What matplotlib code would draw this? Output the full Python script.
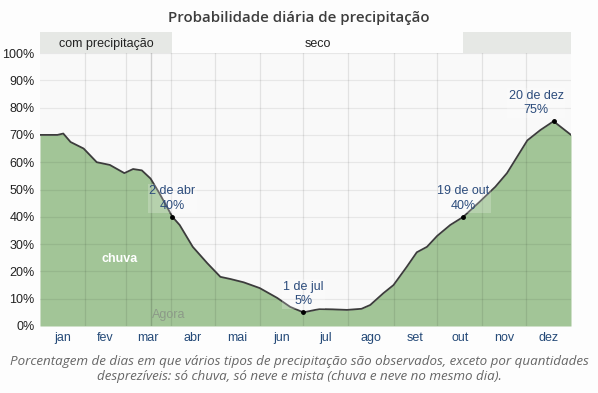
import matplotlib
matplotlib.use("Agg")
import matplotlib.pyplot as plt
import numpy as np

# ---- data ----
days = [0, 12, 16, 21, 30, 39, 48, 58, 64, 70, 76, 82, 91, 96, 105, 115, 124, 131,
        140, 151, 163, 172, 181, 192, 201, 211, 221, 227, 236, 243, 252, 259, 266,
        273, 282, 291, 302, 313, 321, 328, 335, 344, 353, 365]
prob = [70, 70, 70.5, 67.4, 65, 60, 59, 56, 57.5, 57, 54, 48.7, 40, 37, 29, 23, 18, 17.2,
        16, 13.9, 10.3, 7, 5, 6.2, 6.1, 5.9, 6.3, 7.7, 12, 15, 21.6, 27, 29,
        33, 37, 40, 45.4, 51, 56, 62, 68, 71.8, 75, 70]
month_labels = ["jan", "fev", "mar", "abr", "mai", "jun", "jul", "ago", "set", "out", "nov", "dez"]
month_starts = [0, 31, 59, 90, 120, 151, 181, 212, 243, 273, 304, 334, 365]
yticks = [0, 10, 20, 30, 40, 50, 60, 70, 80, 90, 100]
ann_days = [91, 181, 291, 353]
ann_vals = [40, 5, 40, 75]
ann_text = ["2 de abr", "1 de jul", "19 de out", "20 de dez"]
wet_periods = [(0, 91), (291, 365)]
now_day = 76

W, H = 598, 393
fig = plt.figure(figsize=(W / 100, H / 100), dpi=100, facecolor="#fdfdfd")

def px(x0, y0, x1, y1):
    return [x0 / W, 1 - y1 / H, (x1 - x0) / W, (y1 - y0) / H]

ax = fig.add_axes(px(40, 53, 571, 326))
ax.set_facecolor("#f9f9f9")
ax.set_xlim(0, 365)
ax.set_ylim(0, 100)

green = "#a2c597"
ax.fill_between(days, prob, 0, color=green, lw=0, zorder=1)
ax.plot(days, prob, color="#3c3c3c", lw=1.3, zorder=3)

# grid on top of fill
for y in yticks[1:]:
    ax.axhline(y, color="black", alpha=0.07, lw=0.9, zorder=2)
for d in month_starts[1:-1]:
    ax.axvline(d, color="black", alpha=0.09, lw=0.9, zorder=2)
ax.axvline(now_day, color="black", alpha=0.16, lw=1.0, zorder=2)

for s in ax.spines.values():
    s.set_visible(False)
ax.set_yticks(yticks)
ax.set_yticklabels([f"{v}%" for v in yticks], fontsize=9, color="#222222",
                   family="Liberation Sans")
mid = [(month_starts[i] + month_starts[i + 1]) / 2 for i in range(12)]
ax.set_xticks(mid)
ax.set_xticklabels(month_labels, fontsize=9, color="#254a78", family="Liberation Sans")
ax.tick_params(length=0, pad=4)

# annotations
ax.plot(ann_days, ann_vals, "o", color="black", ms=2.5, zorder=5)
for d, v, t in zip(ann_days, ann_vals, ann_text):
    xo = d if d < 340 else d - 12
    ax.text(xo, v + 1.8, f"{t}\n{v}%", ha="center", va="bottom", fontsize=9,
            color="#2c4c7c", family="Liberation Sans", linespacing=1.3, zorder=6,
            bbox=dict(boxstyle="square,pad=0.1", fc="white", ec="none", alpha=0.22))

ax.text(55, 24.5, "chuva", ha="center", va="center", fontsize=9, color="white",
        family="Liberation Sans", fontweight="bold", zorder=6)
ax.text(now_day + 1, 4, "Agora", ha="left", va="center", fontsize=9,
        color="#8c9a88", family="Liberation Sans", zorder=6)

# band
bx = fig.add_axes(px(40, 32, 571, 53))
bx.set_xlim(0, 365)
bx.set_ylim(0, 1)
bx.set_facecolor("#fdfdfd")
for a, b in wet_periods:
    bx.axvspan(a, b, color="#e6e8e5", lw=0)
bx.axis("off")
bx.text(sum(wet_periods[0]) / 2, 0.45, "com precipitação", ha="center", va="center",
        fontsize=9, color="#222222", family="Liberation Sans")
bx.text((wet_periods[0][1] + wet_periods[1][0]) / 2, 0.45, "seco", ha="center",
        va="center", fontsize=9, color="#222222", family="Liberation Sans")

fig.text(0.5, 1 - 18 / H, "Probabilidade diária de precipitação", ha="center",
         va="center", fontsize=10.8, color="#3d3d3d", family="Open Sans",
         fontweight="semibold")
fig.text(0.5, 1 - 369 / H,
         "Porcentagem de dias em que vários tipos de precipitação são observados, exceto por quantidades\n"
         "desprezíveis: só chuva, só neve e mista (chuva e neve no mesmo dia).",
         ha="center", va="center", fontsize=9.6, color="#666666", family="Open Sans",
         style="italic", linespacing=1.25)

fig.savefig("out.png", dpi=100, facecolor=fig.get_facecolor())
